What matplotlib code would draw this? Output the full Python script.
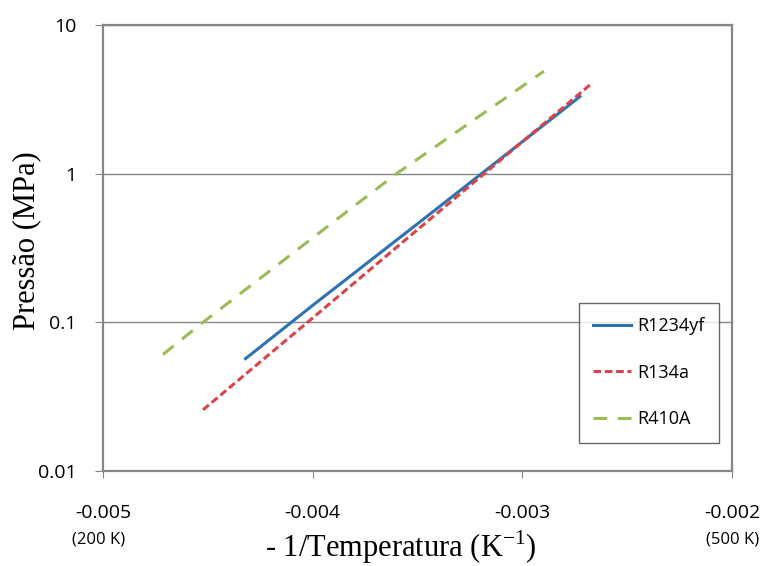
import numpy as np
import matplotlib.pyplot as plt

# values (x = -1/T in 1/K, y = pressure in MPa)
x_r1234yf = [-0.00432, -0.0040, -0.0035, -0.0030, -0.002725]
p_r1234yf = [0.057, 0.13, 0.46, 1.64, 3.3]

x_r134a = [-0.004523, -0.0040, -0.0035, -0.0030, -0.002673]
p_r134a = [0.0258, 0.107, 0.42, 1.64, 4.0]

x_r410a = [-0.004714, -0.004523, -0.0040, -0.0036, -0.0030, -0.002897]
p_r410a = [0.0608, 0.1, 0.37, 1.0, 3.87, 4.89]

xticks = [-0.005, -0.004, -0.003, -0.002]
xticklabels = ['-0.005', '-0.004', '-0.003', '-0.002']
yticks = [0.01, 0.1, 1, 10]
yticklabels = ['0.01', '0.1', '1', '10']

grey = '#868686'
tickfont = 'Open Sans'
serif = 'Liberation Serif'

fig = plt.figure(figsize=(7.63, 5.66), dpi=100)
ax = fig.add_axes([103/763, 1 - 471/566, (732-103)/763, (471-25)/566])

ax.plot(x_r1234yf, p_r1234yf, color='#2e72b0', lw=2.2, label='R1234yf')
ax.plot(x_r134a, p_r134a, color='#d9444a', lw=2.2, dashes=(2.5, 1.2), label='R134a')
ax.plot(x_r410a, p_r410a, color='#9bbb59', lw=2.2, dashes=(4.5, 3.5), label='R410A')

ax.set_yscale('log')
ax.set_xlim(-0.005, -0.002)
ax.set_ylim(0.01, 10)
ax.set_xticks(xticks)
ax.set_xticklabels(xticklabels, fontfamily=tickfont, fontsize=14)
ax.set_yticks(yticks)
ax.set_yticklabels(yticklabels, fontfamily=tickfont, fontsize=14)
ax.minorticks_off()
ax.tick_params(axis='x', direction='out', length=5, color=grey, pad=19)
ax.tick_params(axis='y', direction='out', length=6, color=grey, pad=13)

ax.grid(axis='y', color=grey, lw=1)
for s in ax.spines.values():
    s.set_color(grey)
    s.set_linewidth(1.6)

# temperature hints under the end ticks
fig.text(99/763, 1 - 540/566, '(200 K)', fontfamily=tickfont, fontsize=12,
         ha='center', va='center')
fig.text(759/763, 1 - 540/566, '(500 K)', fontfamily=tickfont, fontsize=12,
         ha='right', va='center')

fig.text(401/763, 1 - 557/566, '- 1/Temperatura (K$^{\\mathregular{-1}}$)',
         fontfamily=serif, fontsize=22, ha='center', va='baseline')
fig.text(27/763, 1 - 241/566, 'Pressão (MPa)', fontfamily=serif, fontsize=22,
         rotation=90, ha='center', va='center')

leg = ax.legend(loc='upper left', bbox_to_anchor=(579/763, 1 - 303/566),
                bbox_transform=fig.transFigure, prop={'family': tickfont, 'size': 13},
                frameon=True, fancybox=False, edgecolor='#404040',
                handlelength=2.1, handletextpad=0.3, labelspacing=1.57,
                borderpad=0.8, borderaxespad=0)
leg.get_frame().set_linewidth(1.0)

fig.savefig('out.png', dpi=100)
